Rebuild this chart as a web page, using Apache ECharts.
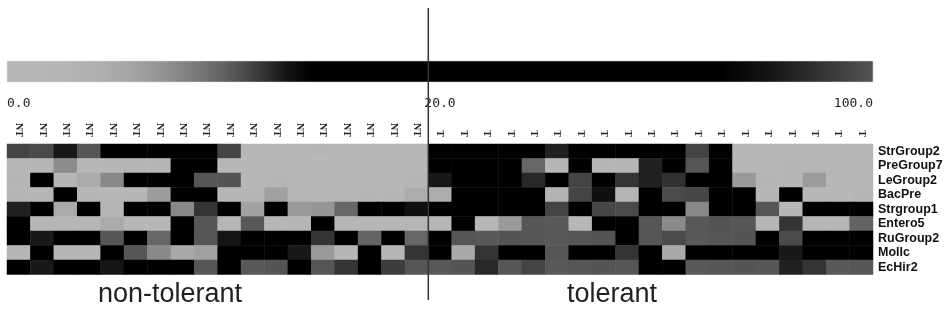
<!DOCTYPE html>
<html>
<head>
<meta charset="utf-8">
<script src="https://cdn.jsdelivr.net/npm/echarts@6/dist/echarts.min.js"></script>
<style>
  html, body { margin: 0; padding: 0; background: #ffffff; }
  #chart { width: 950px; height: 321px; }
</style>
</head>
<body>
<div id="chart"></div>
<script>
// Bacterial groups, top to bottom
const groups = ['StrGroup2', 'PreGroup7', 'LeGroup2', 'BacPre', 'Strgroup1',
                'Entero5', 'RuGroup2', 'Mollc', 'EcHir2'];

// Samples: 18 non-tolerant (NT) followed by 19 tolerant (T)
const sampleClasses = [
  'NT','NT','NT','NT','NT','NT','NT','NT','NT','NT','NT','NT','NT','NT','NT','NT','NT','NT',
  'T','T','T','T','T','T','T','T','T','T','T','T','T','T','T','T','T','T','T'
];

// Colour scale ticks and the two sample-group captions
const scaleTicks = [0, 20, 100];
const groupCaptions = ['non-tolerant', 'tolerant'];

// Values per group, one per sample (NT1..NT18, T1..T19)
const strGroup2 = [11.2, 11.0, 12.8, 10.5, 24, 31, 27, 35, 22, 11.2, 1.6, 1.8, 1.5, 1.9, 1.4, 1.7, 1.6, 1.8,
                   42, 38, 45, 33, 29, 12.5, 36, 41, 30, 27, 25, 11.2, 19, 1.5, 1.7, 1.6, 1.4, 1.8, 1.5];
const preGroup7 = [1.8, 2.2, 7.6, 1.7, 1.9, 2.0, 2.4, 21, 26, 1.6, 1.5, 1.4, 1.6, 1.5, 1.3, 1.5, 1.6, 1.7,
                   28, 34, 26, 23, 9.8, 2.1, 19, 2.3, 2.2, 12.5, 14.5, 10.5, 17, 1.8, 1.6, 1.9, 1.7, 1.6, 1.8];
const leGroup2  = [2.3, 18, 2.1, 4.8, 7.8, 23, 27, 20, 10.5, 10.6, 1.7, 1.9, 1.6, 1.5, 1.2, 1.3, 1.8, 2.0,
                   12.8, 22, 26, 19, 12.2, 17, 11.2, 16, 11.8, 12.5, 11.9, 24, 21, 6.6, 2.2, 1.9, 6.5, 1.8, 1.7];
const bacPre    = [2.0, 2.4, 19, 1.9, 1.8, 2.2, 6.4, 25, 21, 2.0, 1.9, 6.0, 1.8, 1.6, 1.7, 1.9, 2.1, 4.6,
                   4.4, 20, 24, 22, 18, 3.2, 11.2, 13.2, 2.0, 17, 11.0, 11.1, 19, 23, 1.9, 18, 1.8, 1.7, 1.9];
const strgroup1 = [12.5, 17, 4.9, 18, 2.4, 20, 16, 7.9, 11.8, 19, 6.0, 21, 6.6, 7.0, 9.8, 26, 22, 13.2,
                   30, 27, 33, 29, 24, 11.2, 21, 11.1, 11.0, 18, 20, 7.8, 23, 25, 10.5, 2.3, 28, 31, 26];
const entero5   = [17, 2.1, 2.0, 2.2, 4.7, 2.1, 2.3, 18, 10.5, 2.0, 10.4, 2.2, 2.1, 16, 1.9, 2.0, 2.1, 2.2,
                   2.0, 19, 2.2, 6.6, 10.5, 10.4, 1.8, 20, 17, 10.5, 7.7, 10.4, 10.6, 10.5, 2.1, 11.8, 2.0, 2.1, 9.9];
const ruGroup2  = [18, 12.8, 21, 19, 10.5, 17, 9.8, 22, 10.5, 12.9, 20, 24, 18, 11.8, 19, 9.9, 16, 9.8,
                   21, 10.5, 10.4, 10.6, 10.5, 10.4, 10.5, 10.6, 17, 10.5, 11.0, 10.4, 10.5, 10.6, 18, 11.0, 22, 20, 19];
const mollc     = [2.1, 19, 2.2, 2.0, 23, 10.5, 7.8, 5.0, 6.0, 21, 18, 20, 12.8, 6.6, 2.2, 17, 2.0, 11.8,
                   25, 5.0, 11.8, 19, 22, 10.5, 24, 20, 11.8, 18, 5.0, 21, 23, 19, 17, 12.8, 20, 24, 22];
const ecHir2    = [20, 12.8, 23, 18, 12.9, 21, 19, 24, 10.5, 17, 10.4, 10.6, 18, 10.5, 11.8, 16, 11.5, 10.5,
                   10.4, 10.6, 12.2, 10.5, 11.2, 10.4, 10.5, 10.6, 10.5, 19, 22, 10.4, 10.5, 10.6, 10.5, 12.5, 11.8, 10.4, 10.5];

const rowValues = [strGroup2, preGroup7, leGroup2, bacPre, strgroup1, entero5, ruGroup2, mollc, ecHir2];

// ---- styling -------------------------------------------------------------
// Grey ramp: light grey at 0, black from ~14 up to ~72, then back to dark grey at 100
const GRAY_RAMP = [[0,184],[2.5,182],[4,176],[5.5,166],[7,150],[8.5,126],[10,98],[11,74],
                   [12,46],[13,18],[14,0],[72,0],[80,18],[90,50],[100,84]];
function grayAt(v) {
  for (let i = 1; i < GRAY_RAMP.length; i++) {
    const [v0, g0] = GRAY_RAMP[i - 1], [v1, g1] = GRAY_RAMP[i];
    if (v <= v1) {
      const t = (v - v0) / (v1 - v0);
      return Math.round(g0 + (g1 - g0) * Math.max(0, t));
    }
  }
  return GRAY_RAMP[GRAY_RAMP.length - 1][1];
}
function grayCss(v) { const g = grayAt(v); return `rgb(${g},${g},${g})`; }

const STEP = 0.25;
const rampColors = [];
for (let v = 0; v <= 100 + 1e-9; v += STEP) rampColors.push(grayCss(v));

// Colour bar: the 0–20 range takes the left half, 20–100 the right half
const BAR = { x: 7, y: 61, width: 866, height: 21 };
function barFrac(v) { return v <= 20 ? (v / 20) * 0.5 : 0.5 + ((v - 20) / 80) * 0.5; }
const barStops = [];
for (let v = 0; v <= 100 + 1e-9; v += 0.5) barStops.push({ offset: barFrac(v), color: grayCss(v) });

const GRID = { left: 7, top: 144, width: 866, height: 130.5 };
const nSamples = sampleClasses.length;
const ntCount = sampleClasses.filter(c => c === 'NT').length;
const dividerX = GRID.left + GRID.width * ntCount / nSamples;

const heatData = [];
rowValues.forEach((row, r) => row.forEach((v, c) => heatData.push([c, r, v])));

const sampleIds = sampleClasses.map((c, i) => c + '_' + (i + 1));

const tickTexts = scaleTicks.map((t, i) => ({
  type: 'text',
  x: i === 0 ? BAR.x : (i === scaleTicks.length - 1 ? BAR.x + BAR.width : BAR.x + BAR.width * barFrac(t)),
  y: 104,
  style: {
    text: t.toFixed(1),
    fontFamily: 'DejaVu Sans Mono',
    fontSize: 13,
    fill: '#222',
    align: i === 0 ? 'left' : (i === scaleTicks.length - 1 ? 'right' : 'center'),
    verticalAlign: 'middle'
  }
}));

const captionX = [170, 612];
const captionTexts = groupCaptions.map((t, i) => ({
  type: 'text',
  x: captionX[i],
  y: 295,
  style: {
    text: t,
    fontFamily: 'Liberation Sans',
    fontSize: 27,
    fill: '#222',
    align: 'center',
    verticalAlign: 'middle'
  }
}));

const chart = echarts.init(document.getElementById('chart'), null, { renderer: 'canvas' });
chart.setOption({
  animation: false,
  backgroundColor: '#ffffff',
  grid: { left: GRID.left, top: GRID.top, width: GRID.width, height: GRID.height, containLabel: false },
  xAxis: {
    type: 'category',
    position: 'top',
    data: sampleIds,
    axisLine: { show: false },
    axisTick: { show: false },
    splitLine: { show: false },
    axisLabel: {
      interval: 0,
      rotate: 90,
      margin: 7,
      fontFamily: 'Liberation Serif',
      fontWeight: 'bold',
      fontSize: 10,
      color: '#222',
      formatter: id => id.split('_')[0]
    }
  },
  yAxis: {
    type: 'category',
    position: 'right',
    inverse: true,
    data: groups,
    axisLine: { show: false },
    axisTick: { show: false },
    splitLine: { show: false },
    axisLabel: {
      interval: 0,
      margin: 5,
      fontFamily: 'Liberation Sans',
      fontWeight: 'bold',
      fontSize: 12.5,
      color: '#111'
    }
  },
  visualMap: {
    type: 'continuous',
    show: false,
    min: 0,
    max: 100,
    dimension: 2,
    seriesIndex: 0,
    inRange: { color: rampColors }
  },
  series: [{
    type: 'heatmap',
    data: heatData,
    progressive: 0,
    emphasis: { disabled: true },
    itemStyle: { borderWidth: 0 }
  }],
  graphic: [
    {
      type: 'rect',
      shape: { x: BAR.x, y: BAR.y, width: BAR.width, height: BAR.height },
      style: {
        fill: { type: 'linear', x: 0, y: 0, x2: 1, y2: 0, colorStops: barStops },
        stroke: '#d8d8d8',
        lineWidth: 0.5
      }
    },
    ...tickTexts,
    ...captionTexts,
    {
      type: 'line',
      z: 100,
      shape: { x1: dividerX, y1: 8, x2: dividerX, y2: 300 },
      style: { stroke: '#333', lineWidth: 1.5 }
    }
  ]
});
</script>
</body>
</html>
